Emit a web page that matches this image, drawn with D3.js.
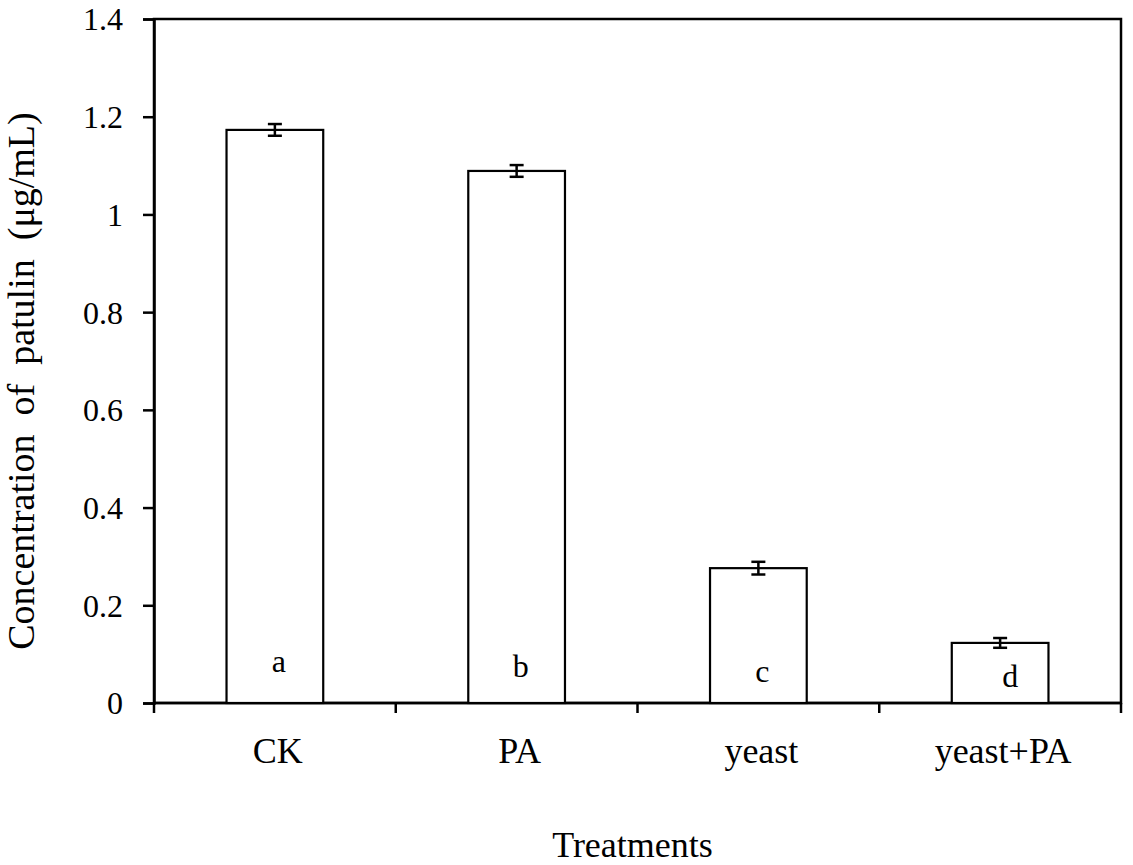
<!DOCTYPE html>
<html>
<head>
<meta charset="utf-8">
<script src="https://cdn.jsdelivr.net/npm/d3@7"></script>
<style>
  body { margin: 0; background: #fff; }
  svg text { font-family: "Liberation Serif", "Times New Roman", serif; fill: #000; white-space: pre; }
</style>
</head>
<body>
<div id="chart"></div>
<script>
// data
var treatments = ['CK', 'PA', 'yeast', 'yeast+PA'];
var patulin = [1.173, 1.089, 0.276, 0.123];
var patulinErr = [0.012, 0.012, 0.013, 0.010];
var letters = ['a', 'b', 'c', 'd'];
var yTicks = [0, 0.2, 0.4, 0.6, 0.8, 1, 1.2, 1.4];

var width = 1133, height = 865;
var margin = { top: 19, right: 12, bottom: 162, left: 154 };
var plotW = width - margin.left - margin.right;
var plotH = height - margin.top - margin.bottom;

var svg = d3.select('#chart').append('svg')
    .attr('width', width)
    .attr('height', height);

var g = svg.append('g')
    .attr('transform', 'translate(' + margin.left + ',' + margin.top + ')');

var x = d3.scaleBand()
    .domain(treatments)
    .range([0, plotW])
    .paddingInner(0.6)
    .paddingOuter(0.3);

var y = d3.scaleLinear()
    .domain([0, 1.4])
    .range([plotH, 0]);

// frame
g.append('rect')
    .attr('width', plotW)
    .attr('height', plotH)
    .attr('fill', 'none')
    .attr('stroke', '#000')
    .attr('stroke-width', 2.5);

// y axis
var yAxis = g.append('g')
    .call(d3.axisLeft(y)
        .tickValues(yTicks)
        .tickSize(11)
        .tickPadding(20)
        .tickFormat(function(d) { return String(+d.toFixed(1)); }));
yAxis.select('.domain').attr('stroke-width', 2.5);
yAxis.selectAll('.tick line').attr('stroke-width', 2.5);
yAxis.selectAll('.tick text')
    .attr('font-size', 32)
    .attr('dy', '0.34em')
    .style('font-family', '"Liberation Serif", serif');

// x axis: ticks sit on category boundaries
var step = x.step();
var bounds = d3.range(treatments.length + 1).map(function(i) { return i * step; });
var xAxis = g.append('g')
    .attr('transform', 'translate(0,' + plotH + ')');
xAxis.append('line')
    .attr('x1', 0).attr('x2', plotW)
    .attr('stroke', '#000').attr('stroke-width', 2.5);
xAxis.selectAll('line.tick')
    .data(bounds)
    .enter().append('line')
    .attr('class', 'tick')
    .attr('x1', function(d) { return d; })
    .attr('x2', function(d) { return d; })
    .attr('y1', 0).attr('y2', 10)
    .attr('stroke', '#000').attr('stroke-width', 2.5);
xAxis.selectAll('text.cat')
    .data(treatments)
    .enter().append('text')
    .attr('class', 'cat')
    .attr('x', function(d) { return x(d) + x.bandwidth() / 2 + 3; })
    .attr('y', 60)
    .attr('text-anchor', 'middle')
    .attr('font-size', 36)
    .text(function(d) { return d; });

// bars
var bars = g.selectAll('.bar')
    .data(treatments)
    .enter().append('g')
    .attr('class', 'bar');

bars.append('rect')
    .attr('x', function(d) { return x(d); })
    .attr('y', function(d, i) { return y(patulin[i]); })
    .attr('width', x.bandwidth())
    .attr('height', function(d, i) { return plotH - y(patulin[i]); })
    .attr('fill', '#fff')
    .attr('stroke', '#000')
    .attr('stroke-width', 2.2);

// error bars
var cap = 7;
bars.each(function(d, i) {
    var cx = x(d) + x.bandwidth() / 2;
    var hi = y(patulin[i] + patulinErr[i]);
    var lo = y(patulin[i] - patulinErr[i]);
    var e = d3.select(this).append('g')
        .attr('stroke', '#000')
        .attr('stroke-width', 2.5);
    e.append('line').attr('x1', cx).attr('x2', cx).attr('y1', hi).attr('y2', lo);
    e.append('line').attr('x1', cx - cap).attr('x2', cx + cap).attr('y1', hi).attr('y2', hi);
    e.append('line').attr('x1', cx - cap).attr('x2', cx + cap).attr('y1', lo).attr('y2', lo);
});

// significance letters
bars.append('text')
    .attr('x', function(d, i) { return x(d) + x.bandwidth() / 2 + 4 + (i === 3 ? 6 : 0); })
    .attr('y', function(d, i) { return plotH - 31 + i * 5; })
    .attr('text-anchor', 'middle')
    .attr('font-size', 32)
    .text(function(d, i) { return letters[i]; });

// axis titles
svg.append('text')
    .attr('x', margin.left + plotW / 2 - 5)
    .attr('y', 857)
    .attr('text-anchor', 'middle')
    .attr('font-size', 36)
    .text('Treatments');

svg.append('text')
    .attr('transform', 'translate(34,' + (margin.top + 362) + ') rotate(-90)')
    .attr('text-anchor', 'middle')
    .attr('font-size', 38)
    .text('Concentration  of  patulin  (\u03bcg/mL)');
</script>
</body>
</html>
